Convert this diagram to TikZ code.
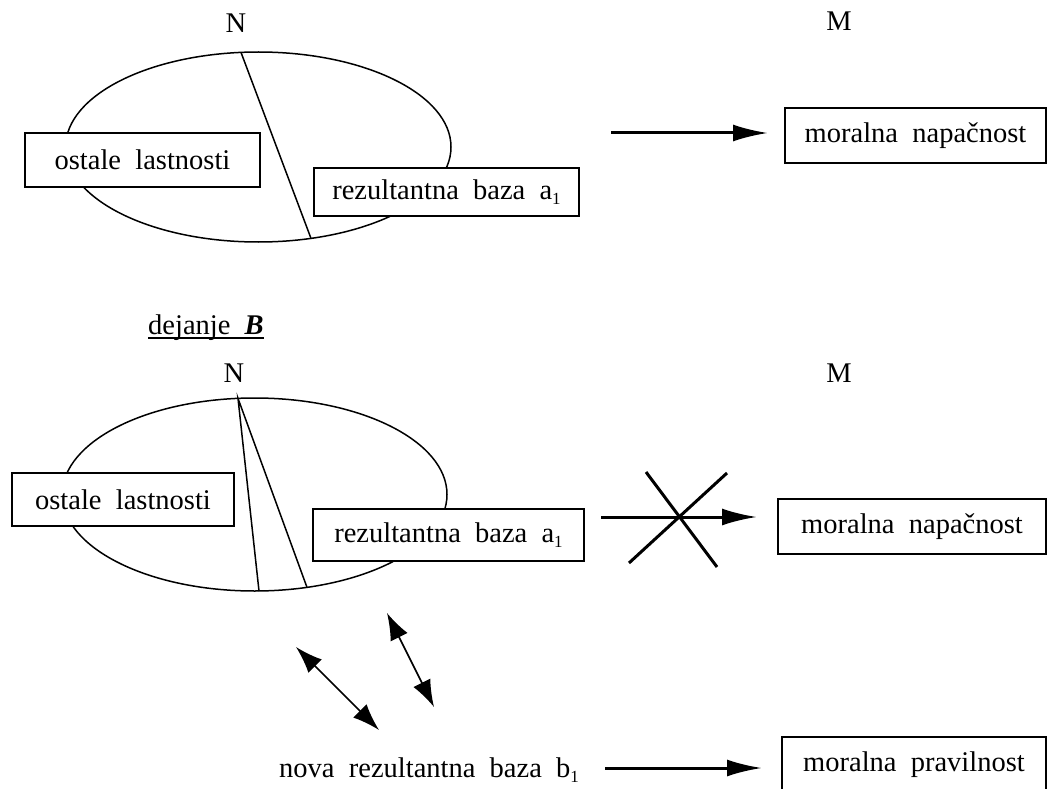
\documentclass[tikz,border=0pt]{standalone}
\usepackage{fontspec}
\setmainfont{Liberation Serif}
\usetikzlibrary{arrows.meta}
\newcommand{\lowidx}[1]{\raisebox{-0.2em}{\fontsize{17}{17}\selectfont #1}}
\begin{document}
\begin{tikzpicture}[x=1pt,y=-1pt,
  every node/.style={font=\fontsize{28.5}{32}\selectfont},
  box/.style={draw,fill=white,line width=1.5pt,inner sep=0pt},
  thin/.style={line width=1.5pt},
  bigarrow/.style={line width=3pt,-{Latex[length=35pt,width=17pt]}},
  dblarrow/.style={line width=1.6pt,{Latex[length=27pt,width=19pt]}-{Latex[length=27pt,width=19pt]}},
  crossline/.style={line width=3pt}]
\useasboundingbox (0,0) rectangle (1047,789);
\clip (0,0) rectangle (1047,789);
% ---------- top part ----------
\node (N1) at (236,23) {N};
\node (M1) at (839,21) {M};
\draw[thin] (258.3,147) ellipse [x radius=192.7pt, y radius=95pt];
\coordinate (t1a) at (241,52.4);
\coordinate (t1b) at (311,238.4);
\draw[thin] (t1a) -- (t1b);
\node[box,minimum width=235pt,minimum height=54pt] (ol1) at (142.5,160) {ostale\ \ lastnosti};
\node[box,minimum width=265pt,minimum height=48pt] (rb1) at (446.5,192) {rezultantna\ \ baza\ \ a\lowidx{1}};
\node[box,minimum width=261pt,minimum height=55pt] (mn1) at (915.5,135.5) {moralna\ \ napačnost};
\coordinate (ar1s) at (611,133);
\coordinate (ar1e) at (768,133);
\draw[bigarrow] (ar1s) -- (ar1e);
% ---------- bottom part ----------
\node[anchor=base west,inner sep=0pt] (dej) at (148,334) {dejanje\ \ \textbf{\textit{B}}};
\draw[thin] ([yshift=-4pt]dej.base west) -- ([yshift=-4pt]dej.base east);
\node (N2) at (234,373) {N};
\node (M2) at (839,373) {M};
\draw[thin] (254.6,494.5) ellipse [x radius=192.4pt, y radius=96.5pt];
\coordinate (apex) at (238,398.4);
\coordinate (b1) at (259,591);
\coordinate (b2) at (307,587.4);
\draw[thin] (b1) -- (apex) -- (b2);
\node[box,minimum width=222pt,minimum height=53pt] (ol2) at (123,499.5) {ostale\ \ lastnosti};
\node[box,minimum width=271pt,minimum height=52pt] (rb2) at (448.5,535) {rezultantna\ \ baza\ \ a\lowidx{1}};
\node[box,minimum width=268pt,minimum height=55pt] (mn2) at (912,526.5) {moralna\ \ napačnost};
\coordinate (ar2s) at (601,517);
\coordinate (ar2e) at (757,517);
\draw[bigarrow] (ar2s) -- (ar2e);
\coordinate (c1a) at (646,472);
\coordinate (c1b) at (717,567);
\coordinate (c2a) at (727,473);
\coordinate (c2b) at (629,563);
\draw[crossline] (c1a) -- (c1b);
\draw[crossline] (c2a) -- (c2b);
\coordinate (d1a) at (296,647);
\coordinate (d1b) at (379,730);
\coordinate (d2a) at (387,613);
\coordinate (d2b) at (434,707);
\draw[dblarrow] (d1a) -- (d1b);
\draw[dblarrow] (d2a) -- (d2b);
\node[anchor=base west,inner sep=0pt] (nova) at (279,777) {nova\ \ rezultantna\ \ baza\ \ b\lowidx{1}};
\coordinate (ar3s) at (605,768);
\coordinate (ar3e) at (762,768);
\draw[bigarrow] (ar3s) -- (ar3e);
\node[box,minimum width=264pt,minimum height=56pt] (mp) at (914,765) {moralna\ \ pravilnost};
\end{tikzpicture}
\end{document}
